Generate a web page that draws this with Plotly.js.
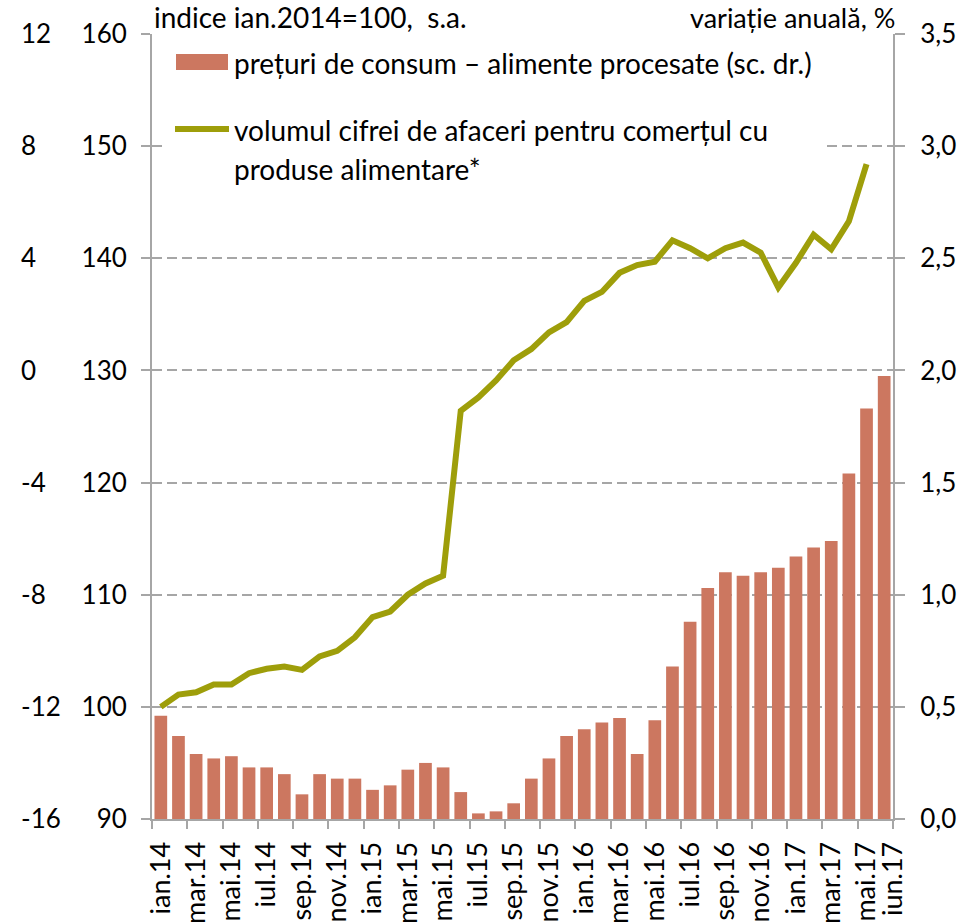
<!DOCTYPE html>
<html>
<head>
<meta charset="utf-8">
<script src="https://cdn.plot.ly/plotly-3.0.1.min.js"></script>
<style>html,body{margin:0;padding:0;background:#fff;}#chart{width:974px;height:923px;}</style>
</head>
<body>
<div id="chart"></div>
<script>
// ---- data ----
const months = ["ian.14","feb.14","mar.14","apr.14","mai.14","iun.14","iul.14","aug.14","sep.14","oct.14","nov.14","dec.14",
  "ian.15","feb.15","mar.15","apr.15","mai.15","iun.15","iul.15","aug.15","sep.15","oct.15","nov.15","dec.15",
  "ian.16","feb.16","mar.16","apr.16","mai.16","iun.16","iul.16","aug.16","sep.16","oct.16","nov.16","dec.16",
  "ian.17","feb.17","mar.17","apr.17","mai.17","iun.17"];
// prețuri de consum – alimente procesate, variație anuală % (right axis)
const prices = [0.46,0.37,0.29,0.27,0.28,0.23,0.23,0.20,0.11,0.20,0.18,0.18,
  0.13,0.15,0.22,0.25,0.23,0.12,0.025,0.034,0.07,0.18,0.27,0.37,
  0.40,0.43,0.45,0.29,0.44,0.68,0.88,1.03,1.10,1.085,1.10,1.12,
  1.17,1.21,1.24,1.54,1.83,1.975];
// volumul cifrei de afaceri, indice ian.2014=100 (left axis)
const volume = [100.0,101.1,101.3,102.0,102.0,103.0,103.4,103.6,103.3,104.5,105.0,106.2,
  108.0,108.5,110.0,111.0,111.7,126.4,127.6,129.1,130.9,131.9,133.4,134.3,
  136.2,137.0,138.7,139.4,139.7,141.6,140.9,140.0,140.9,141.4,140.5,137.4,
  139.6,142.1,140.8,143.3,148.4,null];
// outer left scale (-16 .. 12)
const outerRange = [-16, 12];
const outerTickVals = [-16, -12, -8, -4, 0, 4, 8, 12];
const outerTickText = ["-16", "-12", "-8", "-4", "0", "4", "8", "12"];
const labelIdx = [0,2,4,6,8,10,12,14,16,18,20,22,24,26,28,30,32,34,36,38,40,41.5];
const labelText = ["ian.14","mar.14","mai.14","iul.14","sep.14","nov.14","ian.15","mar.15","mai.15","iul.15","sep.15",
  "nov.15","ian.16","mar.16","mai.16","iul.16","sep.16","nov.16","ian.17","mar.17","mai.17","iun.17"];
const tickBounds = [-0.5,1.5,3.5,5.5,7.5,9.5,11.5,13.5,15.5,17.5,19.5,21.5,23.5,25.5,27.5,29.5,31.5,33.5,35.5,37.5,39.5,41.5];
const legendBar = "prețuri de consum – alimente procesate (sc. dr.)";
const legendLine1 = "volumul cifrei de afaceri pentru comerțul cu";
const legendLine2 = "produse alimentare*";
const titleLeft = "indice ian.2014=100,  s.a.";
const titleRight = "variație anuală, %";

// ---- style ----
const FONT = "Lato, 'Open Sans', sans-serif";
const BAR = "#CC7760";
const LINE = "#9E9E0A";
const GREY = "#A6A6A6";
const W = 974, H = 923, ML = 10, MR = 81, MT = 34, MB = 104;
const PW = W - ML - MR, PH = H - MT - MB;
const px = v => (v - ML) / PW;
const py = v => (H - MB - v) / PH;

const xIdx = months.map((m, i) => i);

const traces = [
  {type: "bar", x: xIdx, y: prices, yaxis: "y2", name: legendBar,
   marker: {color: BAR, line: {width: 0}}, hoverinfo: "skip"},
  {type: "scatter", mode: "lines", x: xIdx, y: volume, yaxis: "y", name: legendLine1,
   line: {color: LINE, width: 6}, hoverinfo: "skip"},
  // invisible carrier so the outer left scale is drawn
  {type: "scatter", mode: "markers", x: [0, 0], y: outerRange, yaxis: "y3",
   marker: {opacity: 0, size: 1}, hoverinfo: "skip", showlegend: false}
];

const tf = {family: FONT, size: 26, color: "#000"};
const layout = {
  width: W, height: H,
  margin: {l: ML, r: MR, t: MT, b: MB, pad: 0},
  paper_bgcolor: "#fff", plot_bgcolor: "#fff",
  showlegend: false, separators: ",.",
  bargap: 0.28,
  font: {family: FONT, size: 26, color: "#000"},
  xaxis: {domain: [px(152), 1], range: [-0.5, 41.5], showline: true, linecolor: GREY, linewidth: 2,
    tickmode: "array", tickvals: labelIdx, ticktext: labelText, ticks: "", tickangle: -90,
    tickfont: {family: FONT, size: 27, color: "#000"}, ticklabelstandoff: 10, showgrid: false, zeroline: false, fixedrange: true,
    minor: {tickmode: "array", tickvals: tickBounds, ticks: "outside", ticklen: 8, tickwidth: 2, tickcolor: GREY, showgrid: false}},
  yaxis: {range: [90, 160], tick0: 90, dtick: 10, showline: true, linecolor: GREY, linewidth: 2,
    ticks: "outside", ticklen: 9, tickwidth: 2, tickcolor: GREY, tickfont: tf, ticklabelstandoff: 9,
    showgrid: true, gridcolor: GREY, gridwidth: 2, griddash: "10px,5px", zeroline: false, fixedrange: true},
  yaxis2: {overlaying: "y", side: "right", anchor: "x", range: [0, 3.5], tick0: 0, dtick: 0.5, tickformat: ".1f",
    showline: true, linecolor: GREY, linewidth: 2, ticks: "outside", ticklen: 10, tickwidth: 2, tickcolor: GREY,
    tickfont: tf, ticklabelstandoff: 10, showgrid: false, zeroline: false, fixedrange: true},
  yaxis3: {overlaying: "y", side: "right", anchor: "free", position: 0, range: outerRange,
    tickmode: "array", tickvals: outerTickVals, ticktext: outerTickText,
    showline: false, ticks: "", tickfont: tf, ticklabelstandoff: 10, showgrid: false, zeroline: false, fixedrange: true},
  shapes: [
    {type: "rect", xref: "paper", yref: "paper", x0: px(164), x1: px(822), y0: py(40), y1: py(190),
     fillcolor: "#fff", line: {width: 0}, layer: "above"},
    {type: "rect", xref: "paper", yref: "paper", x0: px(176), x1: px(228), y0: py(54), y1: py(70),
     fillcolor: BAR, line: {width: 0}, layer: "above"},
    {type: "line", xref: "paper", yref: "paper", x0: px(175), x1: px(229), y0: py(129), y1: py(129),
     line: {color: LINE, width: 6}, layer: "above"}
  ],
  annotations: [
    {xref: "paper", yref: "paper", x: px(152), y: py(17), xanchor: "left", yanchor: "middle", showarrow: false,
     text: titleLeft, font: {family: FONT, size: 28, color: "#000"}},
    {xref: "paper", yref: "paper", x: px(897), y: py(17), xanchor: "right", yanchor: "middle", showarrow: false,
     text: titleRight, font: {family: FONT, size: 27, color: "#000"}},
    {xref: "paper", yref: "paper", x: px(232), y: py(63), xanchor: "left", yanchor: "middle", showarrow: false,
     text: legendBar, font: {family: FONT, size: 28, color: "#000"}},
    {xref: "paper", yref: "paper", x: px(232), y: py(130), xanchor: "left", yanchor: "middle", showarrow: false,
     text: legendLine1, font: {family: FONT, size: 28, color: "#000"}},
    {xref: "paper", yref: "paper", x: px(232), y: py(169), xanchor: "left", yanchor: "middle", showarrow: false,
     text: legendLine2, font: {family: FONT, size: 28, color: "#000"}}
  ]
};

Plotly.newPlot("chart", traces, layout, {displayModeBar: false, staticPlot: true});
</script>
</body>
</html>
